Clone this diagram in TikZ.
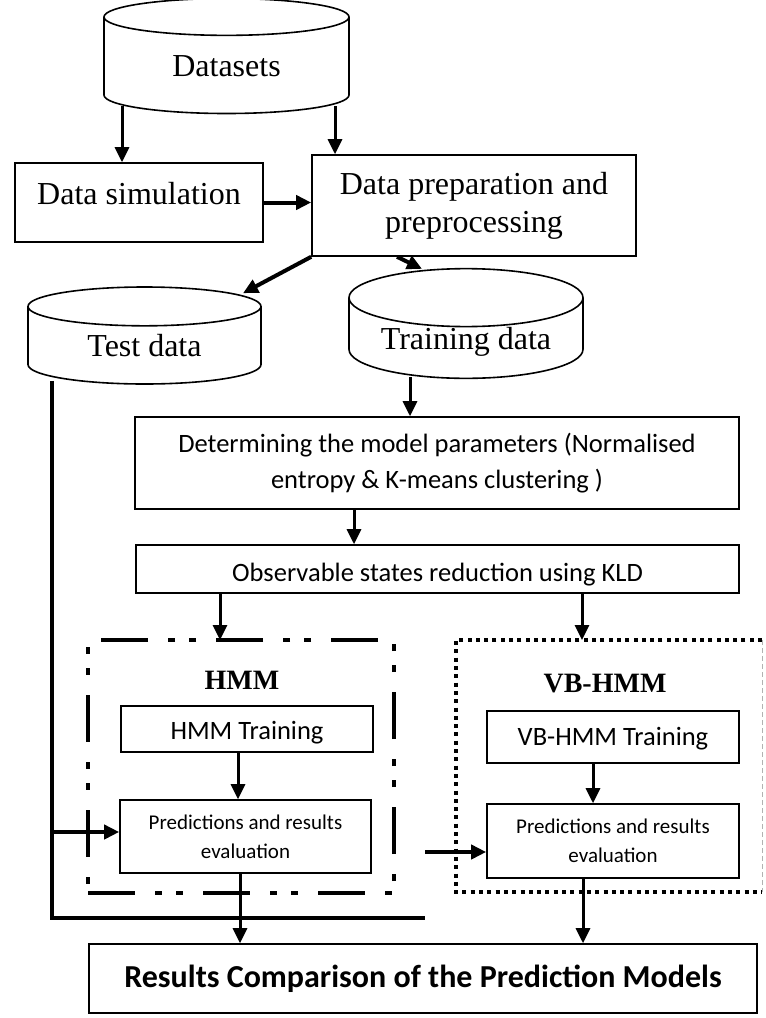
\documentclass[tikz,border=0pt]{standalone}
\usepackage{fontspec}
\setmainfont{Liberation Serif}
\newfontfamily\calfont{Carlito}
\usetikzlibrary{arrows.meta,positioning,shapes.geometric}

\begin{document}
\begin{tikzpicture}[x=1pt,y=-1pt,>={Triangle[length=15pt,width=14pt]}]
  \tikzstyle{db}=[cylinder, shape border rotate=90, aspect=0.34, draw, line width=1.6pt, font=\fontsize{32}{38}\selectfont, inner sep=0pt, anchor=shape center, text height=22pt, text depth=0pt]
  \tikzstyle{blk}=[draw, rectangle, line width=1.6pt, align=center, inner sep=0pt]
  \tikzstyle{big}=[font=\fontsize{32}{38}\selectfont]
  \tikzstyle{cal}=[font=\calfont\fontsize{26.5}{36}\selectfont]
  \tikzstyle{small}=[font=\calfont\fontsize{21}{29}\selectfont]
  \tikzstyle{ttl}=[font=\bfseries\fontsize{28}{30}\selectfont]
  \tikzstyle{link}=[->, line width=3pt]
  \tikzstyle{heavy}=[->, line width=4pt]
  \tikzstyle{hmmframe}=[line width=4.6pt, dash pattern=on 47pt off 20pt on 7pt off 14pt on 7pt off 20pt]
  \tikzstyle{vbframe}=[line width=4pt, dash pattern=on 4pt off 4.3pt]
  \tikzstyle{rim}=[line width=0.8pt, gray!60, dash pattern=on 5pt off 3pt]

  \useasboundingbox (0,0) rectangle (766,1018);

  % data sources
  \node[db, minimum width=245pt, minimum height=115pt] (ds) at (226.5,56) {Datasets};
  \node[blk, big, minimum width=248pt, minimum height=79pt, text height=22pt, text depth=19pt] (sim) at (139,202.5) {Data simulation};
  \node[blk, big, minimum width=324pt, minimum height=101pt] (prep) at (474,205.5) {Data preparation and\\preprocessing};
  \node[db, minimum width=233pt, minimum height=97pt] (testd) at (144.5,335.5) {Test data};
  \node[db, minimum width=234pt, minimum height=99pt] (train) at (466,323.5) {Training data};

  % model set-up
  \node[blk, cal, minimum width=604pt, minimum height=92pt] (det) at (437,463) {Determining the model parameters (Normalised\\entropy \& K-means clustering )};
  \node[blk, cal, minimum width=603pt, minimum height=48pt, text height=30pt] (obs) at (437.5,569) {Observable states reduction using KLD};

  % HMM
  \coordinate (hsw) at (88,893);
  \coordinate (hne) at (394,640);
  \draw[hmmframe] (hsw) -- (hsw -| hne) -- (hne) -- (hsw |- hne) -- cycle;
  \node[ttl] (hmmt) at (242,680) {HMM};
  \node[blk, cal, minimum width=252pt, minimum height=46pt, text height=26pt] (htrain) at (247,729) {HMM Training};
  \node[blk, small, minimum width=251pt, minimum height=73pt] (hpred) at (245.5,836.5) {Predictions and results\\evaluation};

  % VB-HMM
  \coordinate (vsw) at (456,892);
  \coordinate (vne) at (762,640);
  \draw[vbframe] (vne) -- (vne -| vsw) -- (vsw) -- (vsw -| vne);
  \draw[rim] (vne) -- (vsw -| vne);
  \node[ttl] (vbt) at (605,683.5) {VB-HMM};
  \node[blk, cal, minimum width=252pt, minimum height=52pt, text height=22pt] (vtrain) at (613,737) {VB-HMM Training};
  \node[blk, small, minimum width=252pt, minimum height=74pt] (vpred) at (613,841) {Predictions and results\\evaluation};

  \node[blk, font=\calfont\bfseries\fontsize{32}{36}\selectfont, minimum width=668pt, minimum height=69pt] (res) at (423,978.5) {Results Comparison of the Prediction Models};

  % connectors
  \draw[link] ([xshift=-104.5pt,yshift=8pt]ds.south) -- ([xshift=-104.5pt]ds.south |- sim.north);
  \draw[link] ([xshift=108.5pt,yshift=8pt]ds.south) -- ([xshift=108.5pt]ds.south |- prep.north);
  \draw[heavy] (sim.east) -- (sim.east -| prep.west);
  \draw[heavy] (prep.south west) -- ([xshift=98.5pt,yshift=-7pt]testd.north);
  \draw[heavy] ([xshift=-77pt]prep.south) -- ([xshift=-44pt,yshift=-1pt]train.north);
  \draw[link] ([xshift=-56pt,yshift=2pt]train.south) -- ([xshift=-56pt]train.south |- det.north);
  \draw[link] ([xshift=-83pt]det.south) -- ([xshift=-83pt]det.south |- obs.north);
  \draw[link] ([xshift=-217.5pt]obs.south) -- ([xshift=-217.5pt]obs.south |- hne);
  \draw[link] ([xshift=144.5pt]obs.south) -- ([xshift=144.5pt]obs.south |- vne);
  \draw[link] ([xshift=-9pt]htrain.south) -- ([xshift=-9pt]htrain.south |- hpred.north);
  \draw[link] ([xshift=-20pt]vtrain.south) -- ([xshift=-20pt]vtrain.south |- vpred.north);
  \draw[link] ([xshift=-5.5pt]hpred.south) -- ([xshift=-5.5pt]hpred.south |- res.north);
  \draw[link] ([xshift=-30pt]vpred.south) -- ([xshift=-30pt]vpred.south |- res.north);

  % test data feed
  \coordinate (tbend) at (52,918);
  \coordinate (tend) at (425,918);
  \coordinate (vin) at (425,852);
  \draw[line width=3.4pt] ([yshift=4pt]testd.south -| tbend) -- (tbend) -- (tend);
  \draw[heavy] ([yshift=4.5pt]tbend |- hpred.west) -- ([yshift=4.5pt]hpred.west);
  \draw[heavy] (vin) -- (vin -| vpred.west);
\end{tikzpicture}
\end{document}
